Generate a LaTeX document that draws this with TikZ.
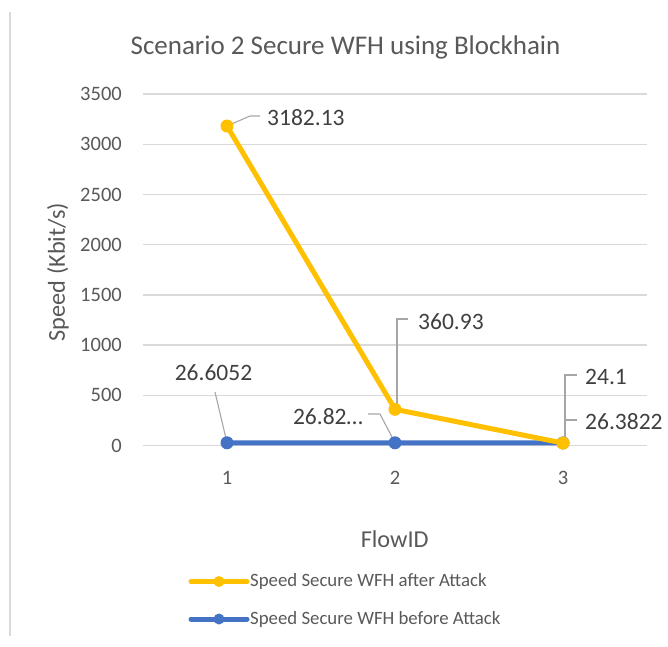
\documentclass[tikz,border=0pt]{standalone}
\usepackage{fontspec}
\setmainfont{Carlito}
\definecolor{cyellow}{HTML}{FFC000}
\definecolor{cblue}{HTML}{4472C4}
\definecolor{cgrid}{HTML}{D9D9D9}
\definecolor{ctext}{HTML}{595959}
\definecolor{clabel}{HTML}{404040}
\definecolor{clead}{HTML}{A6A6A6}
\tikzset{
  gridline/.style={cgrid, line width=1.3pt},
  ticklbl/.style={text=ctext, font=\fontsize{20.5}{24}\selectfont, inner sep=0pt},
  axtitle/.style={text=ctext, font=\fontsize{24.3}{28}\selectfont, inner sep=0pt},
  datalbl/.style={text=clabel, font=\fontsize{23.5}{27}\selectfont, inner sep=0pt},
  leader/.style={clead, line width=1.1pt},
  yser/.style={cyellow, line width=5pt, line join=round, line cap=round},
  bser/.style={cblue, line width=5pt, line join=round, line cap=round},
  ymark/.style={circle, fill=cyellow, minimum size=13pt, inner sep=0pt},
  bmark/.style={circle, fill=cblue, minimum size=13pt, inner sep=0pt},
  legtext/.style={text=ctext, font=\fontsize{18.8}{22}\selectfont, inner sep=0pt, anchor=west},
}
\begin{document}
\begin{tikzpicture}[x=1pt,y=-1pt]
\useasboundingbox[fill=white] (0,0) rectangle (668,646);
% chart border (left edge)
\coordinate (bt) at (10,12);
\coordinate (bb) at (10,636);
\draw[cgrid, line width=1.2pt] (bt) -- (bb);
% title
\node[text=ctext, font=\fontsize{27}{32}\selectfont, inner sep=0pt] (title) at (345.5,47) {Scenario 2 Secure WFH using Blockhain};
% gridlines and y ticks
\foreach \k/\v in {0/0,1/500,2/1000,3/1500,4/2000,5/2500,6/3000,7/3500}{
  \coordinate (gl\k) at (143,445.5-\k*50.2);
  \coordinate (gr\k) at (647,445.5-\k*50.2);
  \draw[gridline] (gl\k) -- (gr\k);
  \node[ticklbl, anchor=east] (yt\k) at (122,445.5-\k*50.2) {\v};
}
% x ticks
\node[ticklbl] (xt1) at (227,478) {1};
\node[ticklbl] (xt2) at (395,478) {2};
\node[ticklbl] (xt3) at (563,478) {3};
% axis titles
\node[axtitle] (xtitle) at (394.7,539) {FlowID};
\node[axtitle, rotate=90] (ytitle) at (58,272) {Speed (Kbit/s)};
% data points
\coordinate (a1) at (227,126.0);
\coordinate (a2) at (395,409.3);
\coordinate (a3) at (563,443.1);
\coordinate (b1) at (227,442.8);
\coordinate (b2) at (395,442.8);
\coordinate (b3) at (563,442.9);
% leader lines
\draw[leader] (a1) -- (250,116) -- (260,116);
\draw[leader] (b1) -- (215,392);
\draw[leader] (a2) ++(2,-4) -- (397,319) -- (408,319);
\draw[leader] (b2) -- (380,414) -- (368,414);
\draw[leader] (a3) ++(2,-3) -- (565,375) -- (577,375);
\draw[leader] (565,420) -- (577,420);
% series
\draw[bser] (b1) -- (b2) -- (b3);
\node[bmark] (mb1) at (b1) {};
\node[bmark] (mb2) at (b2) {};
\node[bmark] (mb3) at (b3) {};
\draw[yser] (a1) -- (a2) -- (a3);
\node[ymark] (ma1) at (a1) {};
\node[ymark] (ma2) at (a2) {};
\node[ymark] (ma3) at (a3) {};
% data labels
\node[datalbl, anchor=west] (la1) at (267,118) {3182.13};
\node[datalbl] (lb1) at (213.5,373) {26.6052};
\node[datalbl, anchor=west] (la2) at (418,321.5) {360.93};
\node[datalbl, anchor=east] (lb2) at (363,416.5) {26.82\ldots};
\node[datalbl, anchor=west] (la3) at (585,376.5) {24.1};
\node[datalbl, anchor=west] (lb3) at (585,421.5) {26.3822};
% legend
\coordinate (ly1) at (191,581.5);
\coordinate (ly2) at (247,581.5);
\coordinate (lyc) at (219,581.5);
\draw[yser] (ly1) -- (ly2);
\node[ymark, minimum size=11pt] (lym) at (lyc) {};
\node[legtext] (lyt) at (250,581.5) {Speed Secure WFH after Attack};
\coordinate (lb1s) at (191,619);
\coordinate (lb2s) at (247,619);
\coordinate (lbc) at (219,619);
\draw[bser] (lb1s) -- (lb2s);
\node[bmark, minimum size=11pt] (lbm) at (lbc) {};
\node[legtext] (lbt) at (250,619) {Speed Secure WFH before Attack};
\end{tikzpicture}
\end{document}
